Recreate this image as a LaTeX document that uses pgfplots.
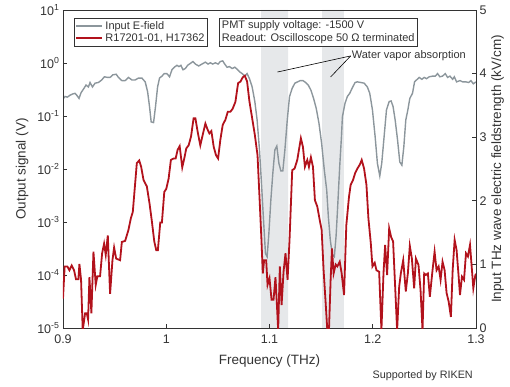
\documentclass[border=0pt]{standalone}
\usepackage{pgfplots}
\pgfplotsset{compat=1.18}
\usepackage{fontspec}
\setmainfont{Liberation Sans}
\definecolor{efield}{RGB}{140,150,156}
\definecolor{pmt}{RGB}{178,18,28}
\definecolor{shade}{RGB}{230,232,234}
\definecolor{txt}{RGB}{51,51,51}
\begin{document}
\begin{tikzpicture}
% ---------- right axis: input E-field (linear, kV/cm) ----------
\begin{axis}[name=ax2, scale only axis, width=413pt, height=318pt,
  xmin=0.9, xmax=1.3, ymin=0, ymax=5,
  axis y line*=right, axis x line=none,
  ytick={0,1,2,3,4,5}, tick align=inside,
  /pgf/number format/assume math mode=true,
  axis line style={txt, line width=0.9pt}, major tick style={txt, line width=0.9pt},
  major tick length=4pt,
  tick label style={font=\fontsize{12.5}{15}\selectfont, text=txt},
  yticklabel style={xshift=0pt},
  ylabel={Input THz wave electric fieldstrength (kV/cm)},
  ylabel style={font=\fontsize{13.5}{15}\selectfont, text=txt, yshift=2pt},
  clip=true]
\addplot[fill=shade, draw=none] coordinates {(1.092,0) (1.092,5) (1.118,5) (1.118,0)} \closedcycle;
\addplot[fill=shade, draw=none] coordinates {(1.151,0) (1.151,5) (1.172,5) (1.172,0)} \closedcycle;
\addplot[efield, line width=1.4pt] table {
0.9000 3.60
0.9019 3.64
0.9042 3.63
0.9068 3.66
0.9094 3.68
0.9117 3.69
0.9133 3.66
0.9155 3.61
0.9175 3.70
0.9204 3.77
0.9223 3.82
0.9246 3.79
0.9262 3.86
0.9285 3.79
0.9311 3.85
0.9343 3.86
0.9375 3.90
0.9401 3.95
0.9430 3.94
0.9456 3.94
0.9482 3.98
0.9515 3.99
0.9537 3.94
0.9570 3.89
0.9602 3.89
0.9634 3.94
0.9667 3.90
0.9699 3.90
0.9731 3.93
0.9764 3.93
0.9796 3.87
0.9819 3.72
0.9838 3.48
0.9854 3.24
0.9877 3.23
0.9896 3.48
0.9916 3.79
0.9935 3.93
0.9958 3.96
0.9981 4.00
1.0006 4.00
1.0032 3.95
1.0055 4.06
1.0078 4.10
1.0104 4.13
1.0123 4.11
1.0142 4.13
1.0162 4.06
1.0185 4.08
1.0207 4.13
1.0233 4.16
1.0259 4.19
1.0282 4.15
1.0314 4.12
1.0346 4.15
1.0379 4.18
1.0405 4.15
1.0427 4.17
1.0450 4.15
1.0476 4.17
1.0502 4.15
1.0524 4.19
1.0547 4.20
1.0566 4.15
1.0589 4.10
1.0612 4.11
1.0638 4.08
1.0664 4.10
1.0686 4.07
1.0709 4.03
1.0735 4.00
1.0761 3.96
1.0783 4.00
1.0806 3.92
1.0832 3.79
1.0858 3.56
1.0880 3.27
1.0903 2.80
1.0922 2.28
1.0942 1.70
1.0961 1.17
1.0977 1.12
1.0994 1.49
1.1013 2.01
1.1032 2.43
1.1052 2.80
1.1071 2.86
1.1091 2.59
1.1110 2.47
1.1129 2.47
1.1149 2.80
1.1172 3.27
1.1194 3.64
1.1220 3.77
1.1246 3.85
1.1272 3.87
1.1298 3.89
1.1324 3.89
1.1350 3.86
1.1375 3.82
1.1401 3.74
1.1427 3.61
1.1453 3.45
1.1479 3.22
1.1505 2.90
1.1531 2.48
1.1554 2.17
1.1570 1.75
1.1589 1.38
1.1609 1.15
1.1628 1.12
1.1645 1.45
1.1660 1.90
1.1680 2.54
1.1697 3.01
1.1706 3.32
1.1731 3.53
1.1754 3.64
1.1777 3.69
1.1803 3.78
1.1829 3.86
1.1851 3.87
1.1884 3.86
1.1916 3.85
1.1948 3.79
1.1971 3.69
1.1997 3.43
1.2023 3.01
1.2045 2.59
1.2068 2.39
1.2087 2.59
1.2110 3.01
1.2133 3.43
1.2159 3.56
1.2178 3.57
1.2197 3.48
1.2217 3.27
1.2240 2.96
1.2262 2.61
1.2282 2.56
1.2301 2.85
1.2320 3.27
1.2340 3.43
1.2359 3.61
1.2385 3.69
1.2405 3.87
1.2424 3.90
1.2450 3.94
1.2476 3.91
1.2498 3.94
1.2521 3.92
1.2547 3.95
1.2579 3.96
1.2605 3.96
1.2628 4.00
1.2650 3.95
1.2676 3.96
1.2702 4.00
1.2725 3.94
1.2748 3.96
1.2774 3.91
1.2790 3.95
1.2812 3.87
1.2845 3.89
1.2871 3.87
1.2903 3.87
1.2929 3.86
1.2951 3.89
1.2974 3.84
1.3000 3.87
};
\end{axis}
% ---------- left axis: output signal (log, V) ----------
\begin{axis}[name=ax, scale only axis, width=413pt, height=318pt,
  xmin=0.9, xmax=1.3, ymode=log, ymin=1e-5, ymax=10,
  xtick={0.9,1,1.1,1.2,1.3}, xticklabels={0.9,1,1.1,1.2,1.3},
  ytick={1e-5,1e-4,1e-3,1e-2,1e-1,1,10},
  yticklabels={10\textsuperscript{-5},10\textsuperscript{-4},10\textsuperscript{-3},10\textsuperscript{-2},10\textsuperscript{-1},10\textsuperscript{0},10\textsuperscript{1}},
  minor ytick={}, xtick pos=bottom, ytick pos=left, tick align=inside,
  axis line style={txt, line width=0.9pt}, major tick style={txt, line width=0.9pt},
  major tick length=4pt, minor tick length=0pt,
  tick label style={font=\fontsize{12.5}{15}\selectfont, text=txt},
  xticklabel style={yshift=-3pt},
  xlabel={Frequency (THz)}, ylabel={Output signal (V)},
  label style={font=\fontsize{13.5}{15}\selectfont, text=txt},
  xlabel style={yshift=-4pt},
  ylabel style={yshift=2pt},
  legend style={at={(0.027,0.975)}, anchor=north west, draw=txt, line width=0.6pt,
    fill=white, font=\fontsize{11}{13}\selectfont, text=txt, inner sep=1pt,
    row sep=-1pt, nodes={inner sep=2pt}},
  legend cell align=left,
  legend image code/.code={\draw[#1] (0pt,0pt) -- (26pt,0pt);},
  clip=true]
\addlegendimage{efield, line width=2pt}
\addlegendentry{Input E-field}
\addplot[pmt, line width=1.8pt] table {
0.9000 3.6e-5
0.9016 1.45e-4
0.9042 1.45e-4
0.9062 1.23e-4
0.9084 1.51e-4
0.9107 1.23e-4
0.9126 8.3e-5
0.9149 8.3e-5
0.9159 1.62e-4
0.9175 8.1e-5
0.9191 9e-6
0.9214 1.9e-5
0.9230 1.9e-5
0.9243 1.45e-5
0.9256 9.1e-5
0.9275 1.9e-5
0.9295 2.75e-4
0.9317 6.5e-5
0.9333 9.5e-5
0.9359 9.5e-5
0.9379 2.57e-4
0.9398 3.9e-4
0.9414 2.4e-4
0.9434 5.6e-4
0.9456 4.4e-5
0.9479 1.9e-4
0.9495 3.3e-4
0.9515 2.04e-4
0.9553 1.9e-4
0.9570 4.2e-4
0.9602 4.4e-4
0.9634 7.1e-4
0.9657 1.17e-3
0.9676 1.55e-3
0.9699 5.4e-3
0.9715 1.29e-2
0.9738 1.45e-2
0.9757 1.10e-2
0.9780 6.2e-3
0.9812 4.7e-3
0.9838 2.24e-3
0.9861 1.02e-3
0.9884 4.3e-4
0.9903 2.95e-4
0.9919 2.95e-4
0.9942 9.8e-4
0.9958 9.8e-4
0.9981 3.7e-3
1.0000 4.2e-3
1.0023 6.6e-3
1.0045 1.48e-2
1.0071 1.58e-2
1.0091 1.58e-2
1.0110 2.29e-2
1.0130 2.7e-2
1.0155 1.07e-2
1.0178 1.70e-2
1.0194 2.45e-2
1.0217 2.8e-2
1.0240 4.1e-2
1.0265 9.1e-2
1.0282 9.1e-2
1.0307 4.7e-2
1.0330 2.8e-2
1.0353 4.4e-2
1.0379 7.2e-2
1.0401 5.5e-2
1.0418 4.7e-2
1.0437 5.2e-2
1.0460 2.6e-2
1.0482 1.82e-2
1.0502 1.58e-2
1.0524 3.55e-2
1.0547 6.8e-2
1.0573 8.5e-2
1.0596 0.120
1.0621 0.120
1.0644 0.138
1.0670 0.186
1.0696 0.417
1.0719 0.447
1.0741 0.537
1.0761 0.575
1.0783 0.447
1.0806 0.186
1.0832 9.1e-2
1.0858 4.4e-2
1.0884 1.82e-2
1.0903 3.0e-3
1.0922 4.6e-4
1.0935 1.07e-4
1.0948 1.9e-4
1.0968 1.9e-4
1.0981 6.5e-5
1.1000 8.7e-5
1.1020 3.4e-5
1.1039 3.4e-5
1.1058 9.1e-5
1.1071 2.95e-5
1.1084 9e-6
1.1100 1.45e-4
1.1117 2.7e-5
1.1136 1.15e-4
1.1155 2.57e-4
1.1175 8.1e-5
1.1194 4.6e-4
1.1220 9.5e-3
1.1243 1.02e-2
1.1269 1.48e-2
1.1285 2.29e-2
1.1304 3.8e-2
1.1324 2.6e-2
1.1343 1.10e-2
1.1366 1.48e-2
1.1382 1.10e-2
1.1401 1.66e-2
1.1421 1.10e-2
1.1440 2.57e-3
1.1463 1.95e-3
1.1486 1.10e-3
1.1505 7.1e-4
1.1524 1.23e-4
1.1544 2.95e-5
1.1560 9e-6
1.1576 9e-6
1.1592 8.1e-5
1.1605 3.16e-4
1.1621 1.07e-4
1.1641 1.58e-4
1.1657 1.45e-4
1.1680 1.78e-4
1.1699 1.07e-4
1.1722 4.2e-5
1.1744 8.7e-4
1.1770 3.0e-3
1.1786 5.0e-3
1.1809 6.2e-3
1.1829 8.3e-3
1.1851 1.02e-2
1.1874 1.20e-2
1.1893 1.48e-2
1.1916 1.02e-2
1.1939 5.0e-3
1.1958 1.17e-3
1.1981 4.0e-4
1.1997 1.45e-4
1.2019 1.70e-4
1.2036 1.23e-4
1.2062 1.15e-4
1.2084 9e-6
1.2104 1.07e-4
1.2120 3.7e-4
1.2139 1.0e-4
1.2159 7.6e-4
1.2178 5.2e-4
1.2197 4.3e-4
1.2217 6.0e-5
1.2236 9e-6
1.2256 6.0e-5
1.2272 1.07e-4
1.2295 1.9e-4
1.2320 4.9e-5
1.2340 1.07e-4
1.2359 3.55e-4
1.2379 2.04e-4
1.2401 5.6e-5
1.2418 2.04e-4
1.2443 1.55e-4
1.2463 5.2e-5
1.2482 9e-6
1.2498 1.07e-4
1.2515 1.0e-4
1.2534 1.07e-4
1.2553 3.9e-5
1.2579 1.23e-4
1.2599 2.75e-4
1.2618 1.23e-4
1.2638 1.45e-4
1.2657 8.1e-5
1.2676 1.78e-4
1.2696 1.23e-4
1.2715 4.6e-5
1.2735 3.16e-5
1.2757 1.62e-5
1.2774 1.23e-4
1.2793 4.6e-4
1.2812 2.95e-4
1.2832 9.3e-5
1.2845 4.2e-5
1.2864 9.3e-5
1.2884 8.1e-5
1.2903 2.57e-4
1.2922 2.24e-4
1.2942 3.7e-4
1.2961 1.23e-4
1.2974 5.6e-5
1.2994 1.0e-4
1.3000 1.05e-4
};
\addlegendentry{R17201-01, H17362}
\node[draw=txt, line width=0.6pt, fill=white, anchor=north west, align=left,
  font=\fontsize{11}{13}\selectfont, text=txt, inner sep=2.5pt]
  at (rel axis cs:0.378,0.975) {PMT supply voltage: -1500 V\\Readout: Oscilloscope 50 Ω terminated};
\draw[black, line width=0.6pt] (axis cs:1.1786,1.36) -- (axis cs:1.1078,0.676);
\draw[black, line width=0.6pt] (axis cs:1.1786,1.36) -- (axis cs:1.1592,0.545);
\node[anchor=west, font=\fontsize{11}{13}\selectfont, text=txt, inner sep=1pt]
  at (axis cs:1.1786,1.36) {Water vapor absorption};
\end{axis}
\node[anchor=east, font=\fontsize{10.8}{12}\selectfont, text=txt, inner sep=0pt]
  at ([xshift=-3pt,yshift=-48pt]ax.south east) {Supported by RIKEN};
\pgfresetboundingbox
\path ([xshift=-63pt,yshift=-59pt]ax.south west) rectangle ([xshift=34pt,yshift=10pt]ax.north east);
\end{tikzpicture}
\end{document}
